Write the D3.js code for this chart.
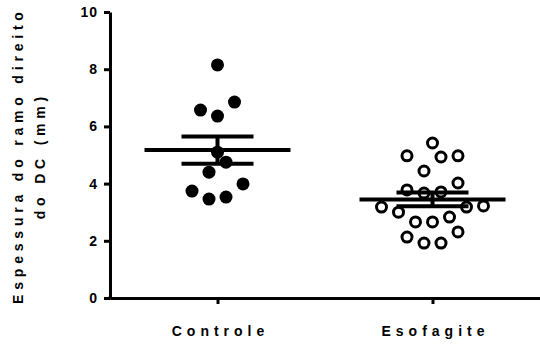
<!DOCTYPE html>
<html>
<head>
<meta charset="utf-8">
<script src="https://cdn.jsdelivr.net/npm/d3@7"></script>
<style>
    body { margin: 0; background: #fff; }
    text { font-family: "Liberation Sans", Arial, sans-serif; font-weight: bold; fill: #000; }
</style>
</head>
<body>
<svg id="chart" width="540" height="349"></svg>
<script>
// --- data ---
const categories = ['Controle', 'Esofagite'];
const controle = [8.15, 6.85, 6.57, 6.36, 5.1, 4.75, 4.4, 3.99, 3.74, 3.53, 3.46];
const esofagite = [5.42, 4.97, 4.97, 4.93, 4.44, 4.02, 3.78, 3.71, 3.67, 3.22, 3.18, 3.18,
                   3.0, 2.83, 2.66, 2.66, 2.31, 2.13, 1.92, 1.92];
const yTicks = [0, 2, 4, 6, 8, 10];
const yTitle = ['Espessura do ramo direito', 'do DC (mm)'];

const groups = [controle, esofagite];

const svg = d3.select('#chart');
const plotLeft = 110, plotRight = 540, plotTop = 12, plotBottom = 298;

const y = d3.scaleLinear().domain([0, 10]).range([plotBottom, plotTop]);
const x = d3.scalePoint().domain(categories).range([plotLeft, plotRight]).padding(0.5);

// mean and SEM for each group
const stats = groups.map(v => {
    const m = d3.mean(v);
    const sem = d3.deviation(v) / Math.sqrt(v.length);
    return { mean: m, lo: m - sem, hi: m + sem };
});

// scatter layout: group sorted values into rows, spread each row from the centre out
const gap = 17;
function layout(values) {
    const sorted = values.slice().sort((a, b) => a - b);
    const rows = [];
    let row = null;
    sorted.forEach(v => {
        if (!row || y(row[0]) - y(v) >= gap) { row = [v]; rows.push(row); }
        else row.push(v);
    });
    const out = [];
    rows.forEach(r => {
        const n = r.length;
        r.forEach((v, i) => {
            let k;
            if (n % 2) k = i === 0 ? 0 : (i % 2 ? -Math.ceil(i / 2) : Math.ceil(i / 2));
            else k = (i % 2 ? 1 : -1) * (Math.floor(i / 2) + 0.5);
            out.push({ v: v, dx: k * gap });
        });
    });
    return out;
}

// axes
const yAxis = svg.append('g')
    .attr('transform', `translate(${plotLeft},0)`)
    .call(d3.axisLeft(y).tickValues(yTicks).tickSize(6).tickSizeOuter(0).tickPadding(6));
const xAxis = svg.append('g')
    .attr('transform', `translate(0,${plotBottom})`)
    .call(d3.axisBottom(x).tickSize(6).tickSizeOuter(0).tickPadding(22));

[yAxis, xAxis].forEach(a => {
    a.select('.domain').attr('stroke', '#000').attr('stroke-width', 3);
    a.selectAll('.tick line').attr('stroke', '#000').attr('stroke-width', 3);
});
yAxis.selectAll('.tick text').style('font-size', '14px').style('letter-spacing', '1px');
xAxis.selectAll('.tick text').style('font-size', '14px').style('letter-spacing', '5px')
    .attr('dx', '2.5px');
// join the two axes at the corner
svg.append('line').attr('x1', plotLeft - 1.5).attr('x2', plotLeft + 1.5)
    .attr('y1', plotBottom).attr('y2', plotBottom).attr('stroke', '#000').attr('stroke-width', 3);

// y title
const title = svg.append('g').attr('transform', `translate(0,${(plotTop + plotBottom) / 2 + 3}) rotate(-90)`);
title.selectAll('text').data(yTitle).join('text')
    .attr('x', 0)
    .attr('y', (d, i) => 23 + i * 22)
    .attr('text-anchor', 'middle')
    .attr('dx', '2.4px')
    .style('font-size', '14px')
    .style('letter-spacing', '4.8px')
    .text(d => d);

// points
groups.forEach((vals, gi) => {
    const cx = x(categories[gi]);
    const pts = layout(vals);
    svg.append('g').selectAll('circle').data(pts).join('circle')
        .attr('cx', d => cx + d.dx)
        .attr('cy', d => y(d.v))
        .attr('r', gi === 0 ? 6.5 : 5)
        .attr('fill', gi === 0 ? '#000' : '#fff')
        .attr('stroke', '#000')
        .attr('stroke-width', gi === 0 ? 0 : 3);
});

// mean line and SEM bars
stats.forEach((s, gi) => {
    const cx = x(categories[gi]);
    const g = svg.append('g').attr('stroke', '#000').attr('stroke-width', 4);
    g.append('line').attr('x1', cx).attr('x2', cx).attr('y1', y(s.hi)).attr('y2', y(s.lo));
    g.append('line').attr('x1', cx - 73).attr('x2', cx + 73).attr('y1', y(s.mean)).attr('y2', y(s.mean));
    [s.hi, s.lo].forEach(v => {
        g.append('line').attr('x1', cx - 36).attr('x2', cx + 36).attr('y1', y(v)).attr('y2', y(v));
    });
});
</script>
</body>
</html>
